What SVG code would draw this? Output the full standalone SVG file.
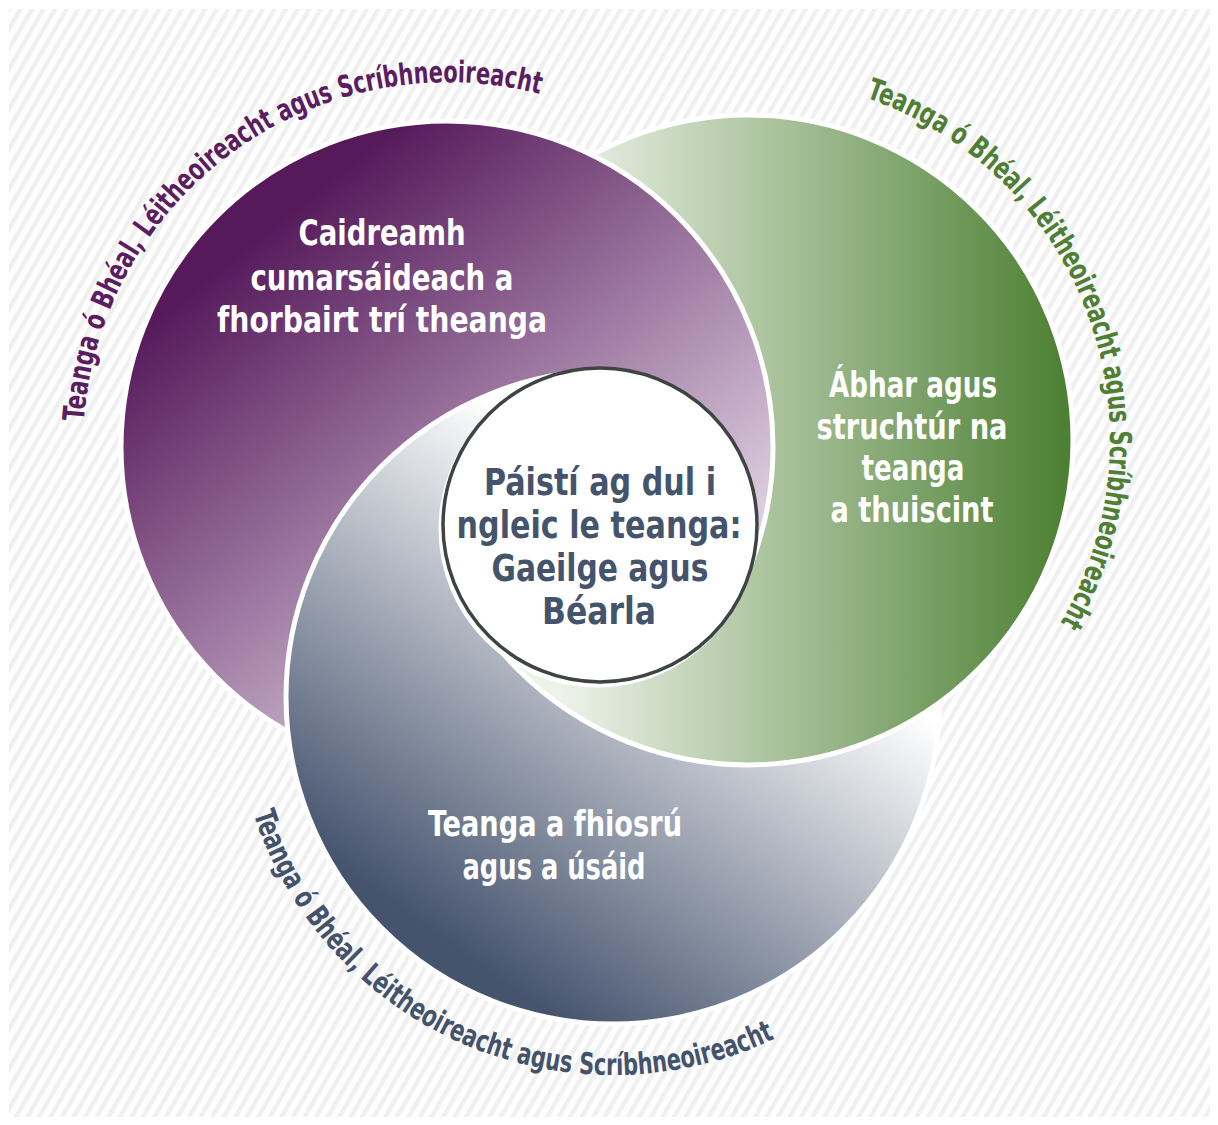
<svg xmlns="http://www.w3.org/2000/svg" xmlns:xlink="http://www.w3.org/1999/xlink" width="1218" height="1125" viewBox="0 0 1218 1125">
<defs>
  <pattern id="stripes" width="10" height="10" patternUnits="userSpaceOnUse" patternTransform="rotate(30)">
    <rect x="0" y="0" width="10" height="10" fill="#ffffff"/>
    <rect x="0" y="0" width="4.5" height="10" fill="#f0f0f0"/>
  </pattern>
  <linearGradient id="gP" gradientUnits="userSpaceOnUse" x1="330" y1="180" x2="700" y2="640">
    <stop offset="0" stop-color="#561a5b"/>
    <stop offset="1" stop-color="#ece2ee"/>
  </linearGradient>
  <linearGradient id="gG" gradientUnits="userSpaceOnUse" x1="560" y1="0" x2="1075" y2="0">
    <stop offset="0" stop-color="#eef3ea"/>
    <stop offset="1" stop-color="#4a7e30"/>
  </linearGradient>
  <linearGradient id="gS" gradientUnits="userSpaceOnUse" x1="700" y1="555" x2="430" y2="930">
    <stop offset="0" stop-color="#ffffff"/>
    <stop offset="1" stop-color="#45536d"/>
  </linearGradient>
  <circle id="cP" cx="447" cy="447" r="326" fill="url(#gP)" stroke="#ffffff" stroke-width="5"/>
  <circle id="cG" cx="748" cy="440" r="325" fill="url(#gG)" stroke="#ffffff" stroke-width="5"/>
  <circle id="cS" cx="613" cy="697" r="327" fill="url(#gS)" stroke="#ffffff" stroke-width="5"/>
  <mask id="mA" maskUnits="userSpaceOnUse" x="0" y="0" width="1218" height="1125"><path d="M600 525 L443 -1469 L2268 -579 L2374 1448 Z" fill="#ffffff"/></mask>
  <mask id="mB" maskUnits="userSpaceOnUse" x="0" y="0" width="1218" height="1125"><path d="M600 525 L2390 1417 L652 2524 L-1141 1510 Z" fill="#ffffff"/></mask>
  <mask id="mC" maskUnits="userSpaceOnUse" x="0" y="0" width="1218" height="1125"><path d="M600 525 L-1123 1540 L-1166 -414 L478 -1471 Z" fill="#ffffff"/></mask>
  <path id="tpP" d="M83.9 421.5 A365 365 0 0 1 541.5 94.4"/>
  <path id="tpG" d="M865.9 97.7 A362 362 0 0 1 1058.3 626.4"/>
  <path id="tpS" d="M253.5 813.8 A378 378 0 0 0 778.7 1036.7"/>
</defs>
<style>
  .lbl{font-family:'Liberation Sans Narrow','DejaVu Sans Condensed','Liberation Sans',sans-serif;font-weight:bold;text-anchor:middle}
  .in{fill:#ffffff;font-size:35px}
  .ctr{fill:#44546c;font-size:37px}
  .arc{font-size:30px;text-anchor:start}
  .tp{fill:#5b1d5f}
  .tg{fill:#4f7e35}
  .ts{fill:#44536b}
</style>

<g id="background">
  <rect x="0" y="0" width="1218" height="1125" fill="#ffffff"/>
  <rect x="9" y="9" width="1201" height="1108" fill="url(#stripes)"/>
</g>

<g id="swirls">
  <g mask="url(#mA)">
    <use href="#cS" xlink:href="#cS"/>
    <use href="#cG" xlink:href="#cG"/>
    <use href="#cP" xlink:href="#cP"/>
  </g>
  <g mask="url(#mB)">
    <use href="#cP" xlink:href="#cP"/>
    <use href="#cS" xlink:href="#cS"/>
    <use href="#cG" xlink:href="#cG"/>
  </g>
  <g mask="url(#mC)">
    <use href="#cG" xlink:href="#cG"/>
    <use href="#cP" xlink:href="#cP"/>
    <use href="#cS" xlink:href="#cS"/>
  </g>
</g>

<g id="node-purple">
  <text class="lbl in" x="382" y="245" textLength="167" lengthAdjust="spacingAndGlyphs">Caidreamh</text>
  <text class="lbl in" x="382" y="290" textLength="263" lengthAdjust="spacingAndGlyphs">cumarsáideach a</text>
  <text class="lbl in" x="382" y="332" textLength="330" lengthAdjust="spacingAndGlyphs">fhorbairt trí theanga</text>
  <text class="lbl arc tp"><textPath href="#tpP" xlink:href="#tpP" startOffset="0" textLength="189.6" lengthAdjust="spacingAndGlyphs">Teanga ó Bhéal,</textPath></text>
  <text class="lbl arc tp"><textPath href="#tpP" xlink:href="#tpP" startOffset="196.8" textLength="171.1" lengthAdjust="spacingAndGlyphs">Léitheoireacht</textPath></text>
  <text class="lbl arc tp"><textPath href="#tpP" xlink:href="#tpP" startOffset="375.2" textLength="264.8" lengthAdjust="spacingAndGlyphs">agus Scríbhneoireacht</textPath></text>
</g>

<g id="node-green">
  <text class="lbl in" x="913" y="397" textLength="168" lengthAdjust="spacingAndGlyphs">Ábhar agus</text>
  <text class="lbl in" x="912" y="439" textLength="191" lengthAdjust="spacingAndGlyphs">struchtúr na</text>
  <text class="lbl in" x="913" y="480" textLength="103" lengthAdjust="spacingAndGlyphs">teanga</text>
  <text class="lbl in" x="912" y="522" textLength="163" lengthAdjust="spacingAndGlyphs">a thuiscint</text>
  <text class="lbl arc tg"><textPath href="#tpG" xlink:href="#tpG" startOffset="0" textLength="189.6" lengthAdjust="spacingAndGlyphs">Teanga ó Bhéal,</textPath></text>
  <text class="lbl arc tg"><textPath href="#tpG" xlink:href="#tpG" startOffset="196.8" textLength="171.1" lengthAdjust="spacingAndGlyphs">Léitheoireacht</textPath></text>
  <text class="lbl arc tg"><textPath href="#tpG" xlink:href="#tpG" startOffset="375.2" textLength="264.8" lengthAdjust="spacingAndGlyphs">agus Scríbhneoireacht</textPath></text>
</g>

<g id="node-slate">
  <text class="lbl in" x="555" y="836" textLength="254" lengthAdjust="spacingAndGlyphs">Teanga a fhiosrú</text>
  <text class="lbl in" x="554" y="879" textLength="183" lengthAdjust="spacingAndGlyphs">agus a úsáid</text>
  <text class="lbl arc ts"><textPath href="#tpS" xlink:href="#tpS" startOffset="0" textLength="190.2" lengthAdjust="spacingAndGlyphs">Teanga ó Bhéal,</textPath></text>
  <text class="lbl arc ts"><textPath href="#tpS" xlink:href="#tpS" startOffset="197.4" textLength="171.6" lengthAdjust="spacingAndGlyphs">Léitheoireacht</textPath></text>
  <text class="lbl arc ts"><textPath href="#tpS" xlink:href="#tpS" startOffset="376.4" textLength="265.6" lengthAdjust="spacingAndGlyphs">agus Scríbhneoireacht</textPath></text>
</g>

<g id="node-center">
  <circle cx="597" cy="529" r="158.5" fill="#ffffff"/>
  <circle cx="600" cy="525" r="157" fill="#ffffff" stroke="#3e4443" stroke-width="3.5"/>
  <text class="lbl ctr" x="600" y="495" textLength="232" lengthAdjust="spacingAndGlyphs">Páistí ag dul i</text>
  <text class="lbl ctr" x="599" y="538" textLength="285" lengthAdjust="spacingAndGlyphs">ngleic le teanga:</text>
  <text class="lbl ctr" x="600" y="581" textLength="217" lengthAdjust="spacingAndGlyphs">Gaeilge agus</text>
  <text class="lbl ctr" x="599" y="624" textLength="114" lengthAdjust="spacingAndGlyphs">Béarla</text>
</g>

<g id="connectors"></g>
</svg>
